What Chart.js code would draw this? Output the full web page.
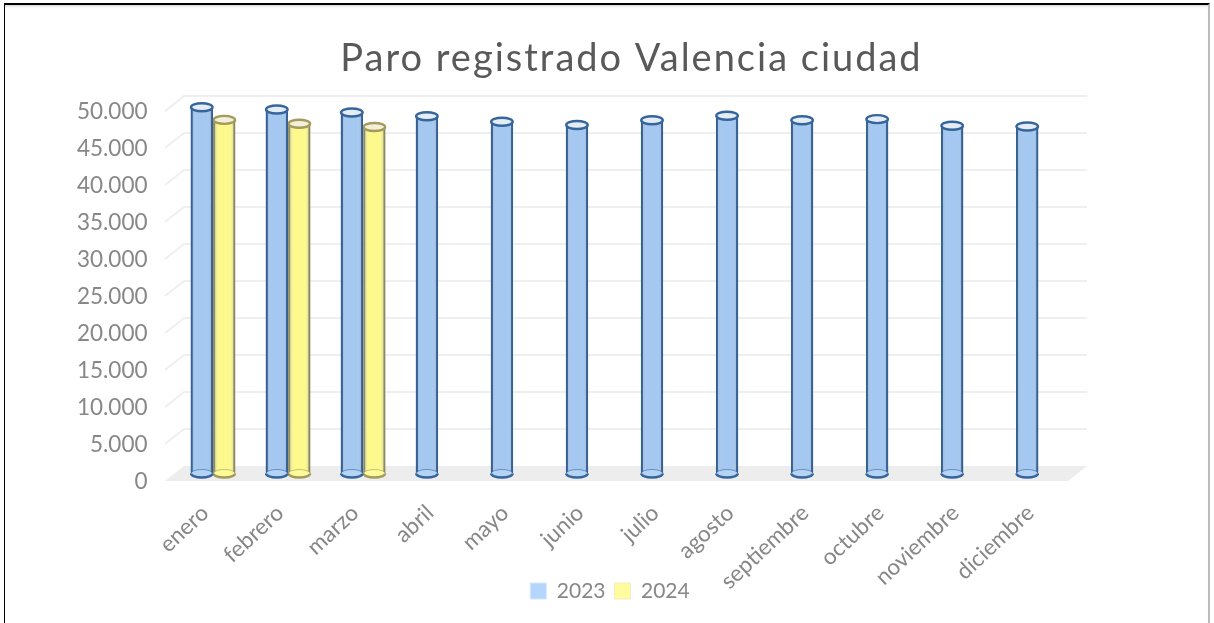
<!DOCTYPE html>
<html lang="es">
<head>
<meta charset="utf-8">
<title>Paro registrado Valencia ciudad</title>
<script src="https://cdn.jsdelivr.net/npm/chart.js@4"></script>
<style>
html,body{margin:0;padding:0;background:#fff;overflow:hidden}
#c{position:absolute;left:0;top:0}
#frame{position:absolute;left:4px;top:3px;width:1203px;height:640px;border-top:2px solid #000;border-left:1px solid #000;border-right:2px solid #bbb;box-shadow:inset 0 3px 3px -2px #ccc;pointer-events:none}
</style>
</head>
<body>
<canvas id="c" width="1214" height="623"></canvas>
<div id="frame"></div>
<script>
const categories = ['enero','febrero','marzo','abril','mayo','junio','julio','agosto','septiembre','octubre','noviembre','diciembre'];
const values2023 = [49500,49200,48800,48300,47550,47100,47750,48350,47750,47900,47000,46900];
const values2024 = [47800,47280,46830,null,null,null,null,null,null,null,null,null];
const titleText = 'Paro registrado Valencia ciudad';
const seriesNames = ['2023','2024'];
const FONT = 'Lato, Carlito, sans-serif';
const TEXT = '#878787';
const styles = [
  {fill:'#a5c8f0', edge:'#36659b', cap:'#e4ecf5', base:'#b5d3f5', legend:'#b4d6fd', legendEdge:'#d5e6fa'},
  {fill:'#fdf98c', edge:'#a39a5c', cap:'#f2f0d8', base:'#fdfa9a', legend:'#fffc9f', legendEdge:'#f0edc0'}
];

const depthPlugin = {
  id:'depth',
  afterLayout(chart){
    const t = chart.titleBlock, l = chart.legend;
    t.left = 631.5 - 500; t.right = 631.5 + 500;
    l.left = 610 - 300; l.right = 610 + 300;
    chart.scales.x.bottom = chart.height;
    if (!t._spaced){
      const d = t.draw.bind(t);
      t.draw = function(){ chart.ctx.save(); chart.ctx.letterSpacing='2px'; d(); chart.ctx.restore(); };
      t._spaced = true;
    }
  },
  beforeDatasetsDraw(chart){
    const {ctx, chartArea:a, scales:{y}} = chart;
    const y0 = y.getPixelForValue(0);
    ctx.save();
    ctx.fillStyle = '#ededed';
    ctx.beginPath();
    ctx.moveTo(a.left-10.5, y0+7.5); ctx.lineTo(a.right-8, y0+7.5);
    ctx.lineTo(a.right+11, y0-7.5); ctx.lineTo(a.left+8.5, y0-7.5);
    ctx.closePath(); ctx.fill();
    ctx.strokeStyle = '#efefef'; ctx.lineWidth = 2;
    y.ticks.forEach(t=>{
      if (t.value === 0) return;
      const p = y.getPixelForValue(t.value);
      ctx.beginPath();
      ctx.moveTo(a.left-10.5, p+7.5); ctx.lineTo(a.left+8.5, p-7.5); ctx.lineTo(a.right+11, p-7.5);
      ctx.stroke();
    });
    ctx.restore();
  },
  afterDatasetDraw(chart, args){
    const {ctx} = chart;
    const st = styles[args.index];
    args.meta.data.forEach((b, i)=>{
      const v = chart.data.datasets[args.index].data[i];
      if (v == null) return;
      const rx = b.width/2 - 0.5, ry = 4;
      ctx.save();
      const g = ctx.createLinearGradient(b.x-rx, 0, b.x+rx, 0);
      g.addColorStop(0,'rgba(40,70,110,.3)'); g.addColorStop(.25,'rgba(255,255,255,0)');
      g.addColorStop(.75,'rgba(255,255,255,0)'); g.addColorStop(1,'rgba(40,70,110,.3)');
      ctx.fillStyle = g;
      ctx.fillRect(b.x-rx, b.y, rx*2, b.base-b.y);
      ctx.lineWidth = 2.4; ctx.strokeStyle = st.edge;
      ctx.beginPath(); ctx.ellipse(b.x, b.base, rx, ry, 0, 0, Math.PI*2);
      ctx.fillStyle = st.base; ctx.fill();
      ctx.beginPath(); ctx.ellipse(b.x, b.base, rx, ry, 0, 0, Math.PI);
      ctx.stroke();
      ctx.lineWidth = 1; ctx.globalAlpha=.6;
      ctx.beginPath(); ctx.ellipse(b.x, b.base, rx, ry, 0, Math.PI, Math.PI*2);
      ctx.stroke(); ctx.globalAlpha=1;
      ctx.lineWidth = 2.4;
      ctx.beginPath(); ctx.ellipse(b.x, b.y, rx, ry, 0, 0, Math.PI*2);
      ctx.fillStyle = st.cap; ctx.fill(); ctx.stroke();
      ctx.restore();
    });
  }
};

new Chart(document.getElementById('c'), {
  type:'bar',
  data:{
    labels:categories,
    datasets:[values2023, values2024].map((d,i)=>({
      label:seriesNames[i], data:d,
      backgroundColor:styles[i].fill, borderColor:styles[i].edge,
      borderWidth:{left:2.4,right:2.4,top:0,bottom:0}, borderSkipped:false,
      categoryPercentage:0.6, barPercentage:1
    }))
  },
  plugins:[depthPlugin],
  options:{
    responsive:false, animation:false,
    layout:{padding:{left:0,right:138,top:0,bottom:11.5}},
    plugins:{
      tooltip:{enabled:false},
      title:{display:true,text:titleText,color:'#595959',
        font:{family:FONT,size:38,weight:'normal'},padding:{top:36,bottom:22}},
      legend:{position:'bottom',
        labels:{boxWidth:16,boxHeight:16,padding:9,color:TEXT,font:{family:FONT,size:21},
          generateLabels:c=>c.data.datasets.map((d,i)=>({text:d.label,fillStyle:styles[i].legend,strokeStyle:styles[i].legendEdge,fontColor:TEXT,lineWidth:1,datasetIndex:i}))}}
    },
    scales:{
      x:{
        afterFit(s){s.height=98;},
        grid:{display:false},border:{display:false},
        ticks:{maxRotation:43,minRotation:43,autoSkip:false,padding:18,color:TEXT,font:{family:FONT,size:22.5},labelOffset:-8}
      },
      y:{
        min:0,max:50000,
        afterFit(s){s.width=175.5;},
        afterBuildTicks(s){s.ticks=[0,1,2,3,4,5,6,7,8,9,10].map(k=>({value:k*5000}));},
        grid:{display:false},border:{display:false},
        ticks:{padding:20,labelOffset:8,color:TEXT,font:{family:FONT,size:22.5},
          callback:v=>v.toLocaleString('de-DE')}
      }
    }
  }
});
</script>
</body>
</html>
